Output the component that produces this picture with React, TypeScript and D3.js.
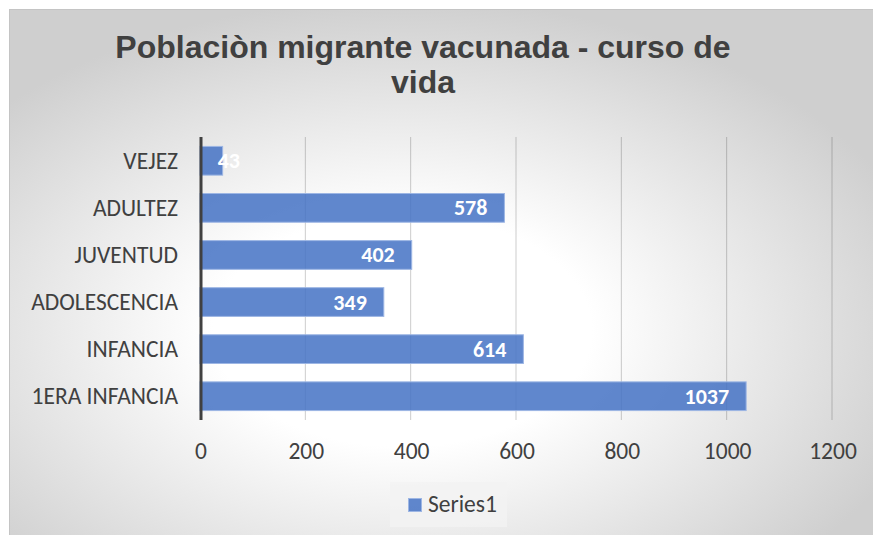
import React from 'react'
import * as d3 from 'd3'

const categories = ['VEJEZ', 'ADULTEZ', 'JUVENTUD', 'ADOLESCENCIA', 'INFANCIA', '1ERA INFANCIA']
const values = [43, 578, 402, 349, 614, 1037]
const xTicks = [0, 200, 400, 600, 800, 1000, 1200]
const titleLines = ['Poblaciòn migrante vacunada - curso de', 'vida']
const seriesName = 'Series1'

const W = 873
const H = 535
const labelFont = "Carlito, 'Open Sans', sans-serif"

export default function App() {
  const x = d3.scaleLinear().domain([0, 1200]).range([200, 832])
  const y = d3.scaleBand<string>()
    .domain(categories)
    .range([137, 420])
    .paddingInner(0.39)
    .paddingOuter(0.2)

  return (
    <div style={{ position: 'fixed', left: 0, top: 0 }}>
      <svg width={W} height={H} style={{ display: 'block' }}>
        <defs>
          <radialGradient id="bg" cx="45%" cy="60%" r="62%">
            <stop offset="0%" stopColor="#ffffff" />
            <stop offset="35%" stopColor="#ffffff" />
            <stop offset="100%" stopColor="#cfcfcf" />
          </radialGradient>
        </defs>
        <rect x={0} y={0} width={W} height={H} fill="#ffffff" />
        <rect x={9.5} y={9.5} width={W} height={H} fill="url(#bg)" stroke="#c4c4c4" />

        {/* title */}
        {titleLines.map((t, i) => (
          <text key={t} x={423} y={58 + i * 35} textAnchor="middle"
            fontFamily="'Liberation Sans', Arial, sans-serif" fontWeight="bold"
            fontSize={32} fill="#404040">{t}</text>
        ))}

        {/* gridlines */}
        {xTicks.slice(1).map(t => (
          <line key={t} x1={x(t)} x2={x(t)} y1={137} y2={420}
            stroke="#000" strokeOpacity={0.2} strokeWidth={1} />
        ))}

        {/* bars */}
        {categories.map((c, i) => (
          <rect key={c} x={x(0)} y={y(c)} width={x(values[i]) - x(0)} height={y.bandwidth()}
            fill="#4472c4" fillOpacity={0.85} stroke="#9db6e4" strokeWidth={1} />
        ))}

        {/* category axis */}
        <line x1={201} x2={201} y1={137} y2={420} stroke="#404040" strokeWidth={3} />
        {categories.map(c => (
          <text key={c} x={178} y={(y(c) ?? 0) + y.bandwidth() / 2} dy="0.34em" textAnchor="end"
            fontFamily={labelFont} fontSize={23.5} fill="#404040">{c}</text>
        ))}

        {/* value ticks */}
        {xTicks.map(t => (
          <text key={t} x={x(t) + 1} y={459} textAnchor="middle"
            fontFamily={labelFont} fontSize={23.5} fill="#404040">{t}</text>
        ))}

        {/* data labels */}
        {categories.map((c, i) => (
          <text key={c} x={Math.max(x(values[i]) - 17, x(0) + 40)}
            y={(y(c) ?? 0) + y.bandwidth() / 2} dy="0.34em" textAnchor="end"
            fontFamily={labelFont} fontWeight="bold" fontSize={22} fill="#ffffff">{values[i]}</text>
        ))}

        {/* legend */}
        <rect x={390} y={482} width={117} height={45} fill="#f3f3f3" fillOpacity={0.8} />
        <rect x={408.5} y={498.5} width={13} height={13} fill="#4472c4" fillOpacity={0.85} stroke="#9db6e4" />
        <text x={428} y={512} fontFamily={labelFont} fontSize={23.5} fill="#404040">{seriesName}</text>
      </svg>
    </div>
  )
}
